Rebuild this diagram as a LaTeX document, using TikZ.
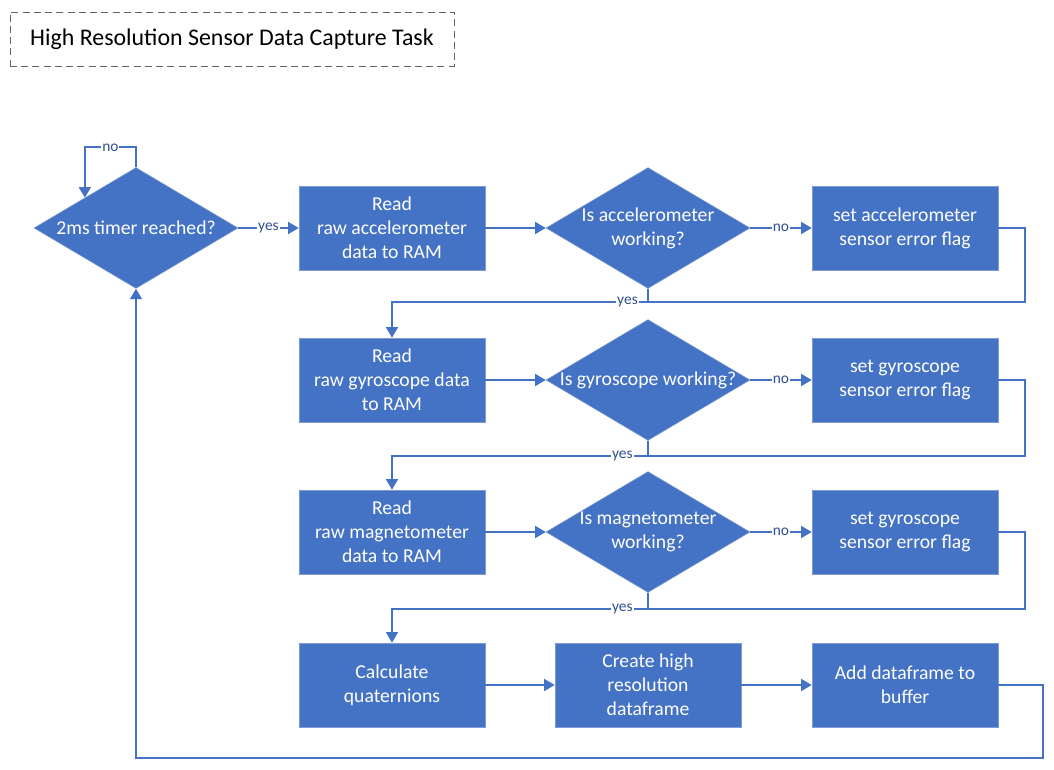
\documentclass[tikz,border=0pt]{standalone}
\usepackage{fontspec}
\setmainfont{Carlito}
\usepackage{tikz}
\usetikzlibrary{arrows.meta, positioning, shapes.geometric}
\usepackage{xcolor}
\definecolor{flowblue}{RGB}{68,114,196}
\definecolor{edgeblue}{RGB}{125,155,212}
\definecolor{tagblue}{RGB}{47,82,143}
\definecolor{dashgray}{RGB}{100,100,100}

\begin{document}
\begin{tikzpicture}[x=0.025cm, y=-0.025cm,
  procbox/.style={draw=edgeblue, fill=flowblue, text=white, line width=0.4pt, minimum width=4.65cm, minimum height=2.1cm, align=center, inner sep=1pt, font=\fontsize{14}{17}\selectfont},
  decision/.style={diamond, draw=edgeblue, fill=flowblue, line width=0.4pt, minimum width=5.1cm, minimum height=3.02cm, inner sep=0pt},
  dtext/.style={text=white, align=center, font=\fontsize{14}{17}\selectfont},
  flow/.style={flowblue, line width=1.3pt, -{Triangle[length=7.5pt,width=8.5pt]}},
  link/.style={flowblue, line width=1.3pt},
  tag/.style={text=tagblue, fill=white, inner sep=0.6pt, font=\fontsize{11}{13}\selectfont}]
  \useasboundingbox (0,0) rectangle (1054,770);
  % Title
  \node[draw=dashgray, dash pattern=on 5pt off 3pt, line width=0.6pt, minimum width=11.1cm, minimum height=1.35cm, font=\fontsize{17}{20}\selectfont] (title) at (232,39) {High Resolution Sensor Data Capture Task};
  % Row 1
  \node[decision, label={[dtext]center:2ms timer reached?}] (timer) at (136,228) {};
  \node[procbox] (readacc) at (392,228) {Read\\raw accelerometer\\data to RAM};
  \node[decision, label={[dtext]center:Is accelerometer\\working?}] (accok) at (648,228) {};
  \node[procbox] (accerr) at (905,228) {set accelerometer\\sensor error flag};
  % Row 2
  \node[procbox] (readgyr) at (392,380) {Read\\raw gyroscope data\\to RAM};
  \node[decision, label={[dtext]center:Is gyroscope working?}] (gyrok) at (648,380) {};
  \node[procbox] (gyrerr) at (905,380) {set gyroscope\\sensor error flag};
  % Row 3
  \node[procbox] (readmag) at (392,532) {Read\\raw magnetometer\\data to RAM};
  \node[decision, label={[dtext]center:Is magnetometer\\working?}] (magok) at (648,532) {};
  \node[procbox] (magerr) at (905,532) {set gyroscope\\sensor error flag};
  % Row 4
  \node[procbox] (quat) at (392,685) {Calculate\\quaternions};
  \node[procbox] (frame) at (648,685) {Create high\\resolution\\dataframe};
  \node[procbox] (bufadd) at (905,685) {Add dataframe to\\buffer};
  % Join points
  \coordinate[below=0.33cm of accok.south] (accjoin);
  \coordinate[below=0.38cm of gyrok.south] (gyrjoin);
  \coordinate[below=0.4cm of magok.south] (magjoin);
  % Timer loop
  \draw[flow] (timer.north) -- ++(0,-20) -| node[tag, pos=0.25] {no} (timer.north west);
  \draw[flow] (timer.east) -- node[tag] {yes} (readacc.west);
  % Accelerometer
  \draw[flow] (readacc.east) -- (accok.west);
  \draw[flow] (accok.east) -- node[tag] {no} (accerr.west);
  \draw[link] (accok.south) -- (accjoin);
  \draw[link] (accerr.east) -- ++(27,0) |- (accjoin);
  \draw[flow] (accjoin) -| node[tag, pos=0.04] {yes} (readgyr.north);
  % Gyroscope
  \draw[flow] (readgyr.east) -- (gyrok.west);
  \draw[flow] (gyrok.east) -- node[tag] {no} (gyrerr.west);
  \draw[link] (gyrok.south) -- (gyrjoin);
  \draw[link] (gyrerr.east) -- ++(27,0) |- (gyrjoin);
  \draw[flow] (gyrjoin) -| node[tag, pos=0.05] {yes} (readmag.north);
  % Magnetometer
  \draw[flow] (readmag.east) -- (magok.west);
  \draw[flow] (magok.east) -- node[tag] {no} (magerr.west);
  \draw[link] (magok.south) -- (magjoin);
  \draw[link] (magerr.east) -- ++(27,0) |- (magjoin);
  \draw[flow] (magjoin) -| node[tag, pos=0.05] {yes} (quat.north);
  % Output
  \draw[flow] (quat.east) -- (frame.west);
  \draw[flow] (frame.east) -- (bufadd.west);
  \draw[flow] (bufadd.east) -- ++(45,0) -- ++(0,73) -| (timer.south);
\end{tikzpicture}
\end{document}
